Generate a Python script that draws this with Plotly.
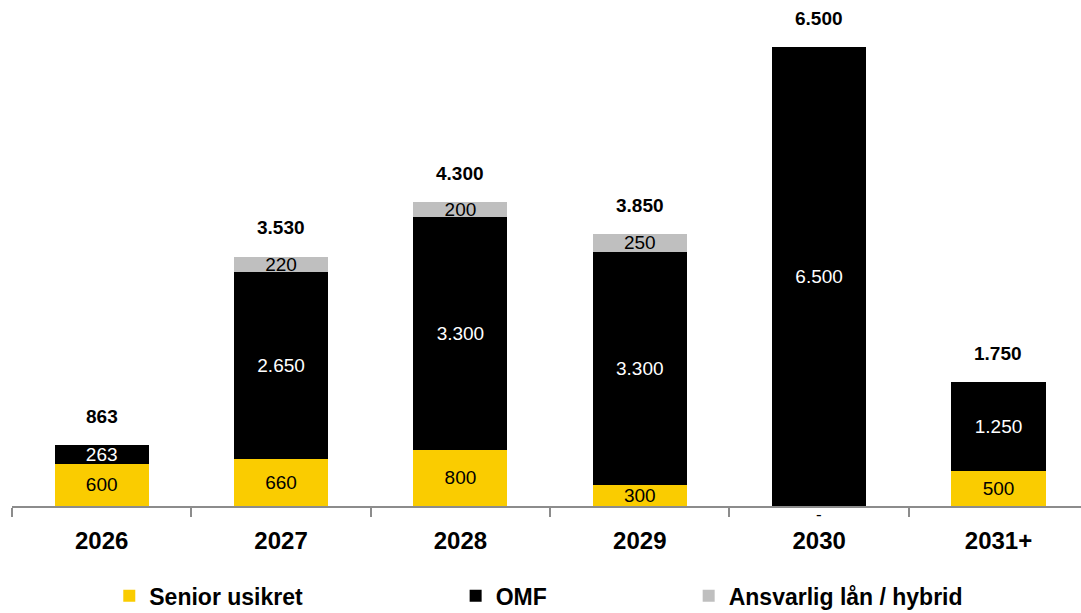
import plotly.graph_objects as go

years = ["2026", "2027", "2028", "2029", "2030", "2031+"]
senior = [600, 660, 800, 300, 0, 500]
omf = [263, 2650, 3300, 3300, 6500, 1250]
ansvarlig = [0, 220, 200, 250, 0, 0]
totals = [863, 3530, 4300, 3850, 6500, 1750]

YELLOW = "#FACC00"
BLACK = "#000000"
GREY = "#BFBFBF"
FONT = "Liberation Sans, Arial, sans-serif"


def fmt(v):
    return f"{v:,}".replace(",", ".")


def seg_text(vals):
    return [fmt(v) if v else "" for v in vals]


fig = go.Figure()

series = [
    ("Senior usikret", senior, YELLOW, "#000000", "legend"),
    ("OMF", omf, BLACK, "#FFFFFF", "legend2"),
    ("Ansvarlig lån / hybrid", ansvarlig, GREY, "#000000", "legend3"),
]

for name, vals, color, tcolor, leg in series:
    fig.add_trace(
        go.Bar(
            x=years,
            y=vals,
            name=name,
            marker=dict(color=color, line=dict(width=0)),
            text=seg_text(vals),
            textposition="inside",
            insidetextanchor="middle",
            textfont=dict(family=FONT, size=19, color=tcolor),
            constraintext="none",
            legend=leg,
            hoverinfo="skip",
        )
    )

# category positions are given by index so "2026" etc. are not read as numbers
annotations = []
for i, t in enumerate(totals):
    annotations.append(
        dict(
            x=i, y=t, text=f"<b>{fmt(t)}</b>",
            showarrow=False, yanchor="middle", yshift=29,
            font=dict(family=FONT, size=19, color="#000000"),
        )
    )
# zero senior values shown as "-"
for i, s in enumerate(senior):
    if s == 0:
        annotations.append(
            dict(
                x=i, y=0, text="-", showarrow=False, yanchor="middle",
                yshift=-8, font=dict(family=FONT, size=17, color="#000000"),
            )
        )

leg_common = dict(
    orientation="h",
    y=-0.181,
    yanchor="middle",
    xanchor="left",
    bgcolor="rgba(0,0,0,0)",
    font=dict(family=FONT, size=23, color="#000000", weight="bold"),
    itemclick=False,
)

fig.update_layout(
    width=1081,
    height=613,
    barmode="stack",
    bargap=0.475,
    separators=",.",
    paper_bgcolor="white",
    plot_bgcolor="white",
    margin=dict(l=12, r=0, t=10, b=107, autoexpand=False),
    uniformtext=dict(minsize=19, mode="show"),
    annotations=annotations,
    legend=dict(x=0.091, **leg_common),
    legend2=dict(x=0.415, **leg_common),
    legend3=dict(x=0.633, **leg_common),
    showlegend=True,
)

fig.update_xaxes(
    type="category",
    range=[-0.5, 5.46],
    automargin=False,
    showline=True,
    linecolor="#8C8C8C",
    linewidth=2,
    ticks="outside",
    tickson="boundaries",
    ticklen=9,
    tickcolor="#8C8C8C",
    tickwidth=2,
    ticklabelstandoff=12,
    showgrid=False,
    tickfont=dict(family=FONT, size=24, color="#000000", weight="bold"),
)

fig.update_yaxes(
    range=[0, 7025],
    visible=False,
    automargin=False,
    showgrid=False,
    zeroline=False,
)

fig.write_html(
    "out.html",
    config={"displayModeBar": False},
    post_script="document.body.style.margin='0';document.body.style.overflow='hidden';",
)
